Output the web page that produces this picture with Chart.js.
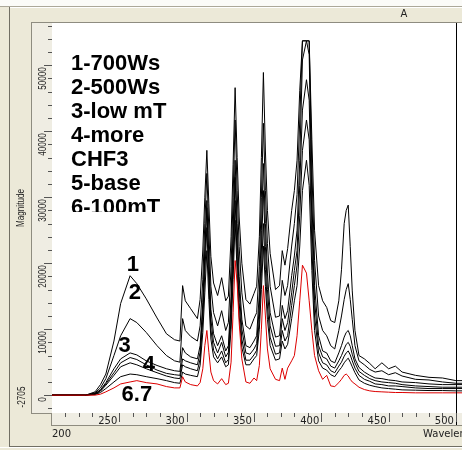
<!DOCTYPE html>
<html>
<head>
<meta charset="utf-8">
<script src="https://cdn.jsdelivr.net/npm/chart.js@4.4.1/dist/chart.umd.min.js"></script>
<style>
  html, body { margin: 0; padding: 0; background: #ECE9D8; }
  #wrap { width: 462px; height: 450px; overflow: hidden; }
</style>
</head>
<body>
<div id="wrap"><canvas id="spectrum" width="462" height="450"></canvas></div>
<script>
// wavelength grid (nm)
const wavelengths = [200, 225, 232, 236, 240, 246, 251, 258, 263, 270, 278, 285, 291, 295, 297, 299, 303, 308,
  310, 312, 313.5, 315, 316.5, 318, 320, 323, 326, 329,
  331, 333, 334.5, 336, 337.5, 339, 341, 344, 347, 350,
  352, 354, 355.5, 357, 358.5, 360, 362, 366, 369, 371,
  373, 375, 378, 380, 382, 384, 386, 389, 391, 393,
  395, 398, 401, 404, 407, 410,
  413, 415, 417, 418.5, 420, 421.5, 423, 425, 428, 432,
  436, 440, 445, 450, 455, 460, 470, 480, 490, 500, 505];

// magnitudes, one list per run
const run1 = [0, 0, 500, 1600, 3200, 8200, 13900, 18100, 16900, 14600, 11700, 9300, 8400, 8200, 16600, 14300, 13100, 11600,
  14500, 22000, 30000, 37100, 29000, 21000, 17000, 15100, 17800, 14300,
  15000, 24000, 35000, 46600, 36000, 27000, 20000, 14500, 13800, 15400,
  16500, 24000, 36000, 48900, 37000, 28000, 21500, 16000, 16600, 21900,
  19700, 22200, 28000, 31000, 35600, 46200, 53700, 53700, 53700, 38700,
  25000, 16600, 14300, 13300, 11300, 11000,
  14300, 19000, 26000, 28000, 28800, 22500, 15800, 9800, 6000, 5500,
  4800, 4000, 4900, 4000, 4400, 3500, 3000, 2700, 2600, 2200, 2200];
const run2 = [0, 0, 350, 1100, 2500, 6000, 9000, 11600, 11000, 9500, 7500, 6000, 5200, 5000, 11600, 9800, 8900, 8200,
  10500, 17500, 26000, 33600, 25000, 16500, 12500, 10500, 12800, 9800,
  11000, 19500, 30000, 41700, 31000, 22500, 15500, 10500, 10000, 11600,
  12500, 19500, 30000, 41200, 31000, 23000, 16500, 11800, 12000, 17400,
  15100, 16600, 22600, 26000, 30400, 41700, 53700, 53700, 53700, 34100,
  20400, 12000, 9800, 9000, 7500, 7000,
  9800, 12000, 14500, 16000, 16900, 14500, 11500, 7500, 5200, 4600,
  3900, 3500, 3700, 3100, 3400, 2900, 2400, 2300, 2000, 1800, 1800];
const run3 = [0, 0, 250, 800, 1900, 4000, 5500, 6400, 6100, 5200, 4500, 4000, 3700, 3600, 7200, 6400, 5800, 5500,
  7500, 14000, 22000, 29500, 21000, 13000, 9300, 7500, 9000, 6700,
  7500, 15000, 25000, 35600, 26000, 18000, 11500, 7500, 7200, 8200,
  9000, 15500, 25000, 35100, 26000, 18500, 12500, 8800, 9000, 13600,
  11600, 12800, 18100, 21100, 25000, 35600, 50800, 53700, 51600, 29500,
  16600, 9000, 6700, 6400, 5200, 4900,
  6400, 7500, 8800, 9500, 9800, 9000, 7500, 5500, 4200, 3500,
  3000, 2600, 2500, 2300, 2200, 2000, 1900, 1700, 1600, 1600, 1600];
const run4 = [0, 0, 200, 700, 1700, 3400, 4900, 5700, 5400, 4600, 3800, 3300, 3100, 3000, 5500, 5200, 4900, 4600,
  6500, 13000, 21000, 28400, 19500, 11500, 8000, 6400, 8000, 5800,
  6500, 13500, 23000, 33000, 23500, 16000, 10000, 6400, 6200, 7000,
  7800, 13500, 22000, 31000, 22500, 16000, 10500, 7400, 7500, 11600,
  9800, 11000, 15500, 18900, 21900, 31800, 43200, 47800, 44700, 26500,
  14300, 7500, 5800, 5500, 4400, 4100,
  5200, 6000, 7000, 7700, 8000, 7400, 6200, 4900, 3600, 3000,
  2500, 2200, 2000, 1900, 1800, 1600, 1400, 1300, 1200, 1200, 1200];
const run5 = [0, 0, 150, 600, 1500, 3000, 4300, 4900, 4600, 4000, 3400, 2900, 2600, 2500, 4600, 4300, 4000, 3700,
  5500, 11500, 18500, 25400, 17000, 10000, 6800, 5500, 6700, 4900,
  5400, 11500, 20000, 29500, 21000, 14000, 8500, 5300, 5300, 6100,
  6800, 11500, 18500, 26000, 19000, 13500, 8800, 6200, 6400, 9800,
  8200, 9000, 13600, 16600, 19700, 27200, 37100, 41700, 38700, 22600,
  12000, 6400, 4900, 4600, 3700, 3400,
  4400, 5000, 5900, 6400, 6700, 6100, 5200, 4100, 3000, 2400,
  2100, 1700, 1600, 1400, 1400, 1300, 1100, 1000, 1000, 1000, 1000];
const run6 = [0, 0, 100, 400, 1000, 2000, 2800, 3200, 3100, 2800, 2500, 2200, 1900, 1800, 3500, 3200, 3000, 2800,
  4500, 9500, 15500, 21900, 14500, 8500, 5800, 4900, 5800, 4300,
  4600, 10000, 17500, 26500, 18500, 12000, 7200, 4600, 4600, 5500,
  6000, 10000, 16000, 22600, 16500, 11500, 7500, 5300, 5500, 8200,
  7000, 7700, 11600, 14300, 16600, 22600, 31000, 35600, 31800, 18900,
  9800, 5200, 4100, 3800, 3100, 2800,
  3700, 4200, 4900, 5300, 5600, 5000, 4300, 3400, 2300, 1800,
  1500, 1300, 1100, 1000, 900, 800, 750, 700, 700, 650, 650];
const run7 = [0, 0, 0, 150, 500, 1100, 1700, 2000, 2200, 1900, 1700, 1300, 1100, 1100, 2800, 2000, 1600, 1400,
  1900, 4000, 7500, 9800, 6500, 3500, 2200, 1700, 2500, 1600,
  1800, 5000, 12500, 20400, 17000, 11000, 5500, 2000, 1800, 2600,
  2200, 4500, 10000, 16600, 12000, 7000, 4000, 2400, 2200, 4100,
  2400, 4100, 5200, 6000, 9000, 14300, 19700, 18500, 14300, 9800,
  6000, 3700, 2400, 3000, 1400, 1300,
  1900, 2400, 3000, 3200, 2900, 2400, 2000, 1700, 1200, 850,
  650, 550, 500, 450, 400, 400, 350, 350, 350, 350, 350];

const legendLines = ['1-700Ws', '2-500Ws', '3-low mT', '4-more', 'CHF3', '5-base', '6-100mT'];
const xTicks = [250, 300, 350, 400, 450, 500];
const yTicks = [0, 10000, 20000, 30000, 40000, 50000];
const yMin = -2705;
// curve tags: [text, wavelength, magnitude]
const curveTags = [['1', 260, 19700], ['2', 261.5, 15500], ['3', 254, 7500], ['4', 272, 4600], ['6.7', 263, 50]];

function toPoints(values) {
  return wavelengths.map((w, i) => ({ x: w, y: values[i] }));
}

const runs = [run1, run2, run3, run4, run5, run6];
const datasets = runs.map(r => ({
  data: toPoints(r),
  borderColor: '#000000',
  borderWidth: 1,
  pointRadius: 0,
  tension: 0,
  order: 1
}));
datasets.push({
  data: toPoints(run7),
  borderColor: '#dd0000',
  borderWidth: 1,
  pointRadius: 0,
  tension: 0,
  order: 0
});

function line(ctx, x1, y1, x2, y2) {
  ctx.beginPath();
  ctx.moveTo(x1, y1);
  ctx.lineTo(x2, y2);
  ctx.stroke();
}

function rotatedText(ctx, text, x, y, align, squeeze) {
  ctx.save();
  ctx.translate(x, y);
  ctx.rotate(-Math.PI / 2);
  ctx.scale(squeeze, 1);
  ctx.textAlign = align;
  ctx.textBaseline = 'middle';
  ctx.fillText(text, 0, 0);
  ctx.restore();
}

// window frame, axis strips and all texts
const framePlugin = {
  id: 'frame',
  beforeDraw(chart) {
    const ctx = chart.ctx;
    const a = chart.chartArea;
    ctx.save();
    ctx.fillStyle = '#ECE9D8';
    ctx.fillRect(0, 0, 462, 450);
    ctx.fillStyle = '#FBFBF8';
    ctx.fillRect(0, 0, 462, 6);
    ctx.lineWidth = 1;
    ctx.strokeStyle = '#ACA899';
    line(ctx, 0, 6.5, 462, 6.5);
    ctx.strokeStyle = '#FFFFFF';
    line(ctx, 10, 7.5, 462, 7.5);
    ctx.strokeStyle = '#716F64';
    line(ctx, 9.5, 7, 9.5, 447);
    line(ctx, 9, 446.5, 462, 446.5);
    ctx.strokeStyle = '#FFFFFF';
    line(ctx, 0, 447.5, 462, 447.5);

    // y strip and x strip
    ctx.fillStyle = '#EFEDE3';
    ctx.fillRect(31, a.top, a.left - 31, a.bottom - a.top);
    ctx.fillRect(a.left, a.bottom, a.right - a.left, 12);
    ctx.strokeStyle = '#8E8C80';
    line(ctx, 31.5, a.top - 1, 31.5, a.bottom + 0.5);
    line(ctx, 31, a.bottom + 0.5, a.left, a.bottom + 0.5);
    line(ctx, 31, a.top - 0.5, a.right, a.top - 0.5);
    line(ctx, a.left - 0.5, a.bottom, a.left - 0.5, a.bottom + 13);
    line(ctx, a.left, a.bottom + 12.5, a.right, a.bottom + 12.5);

    ctx.fillStyle = '#FFFFFF';
    ctx.fillRect(a.left, a.top, a.right - a.left, a.bottom - a.top);
    ctx.restore();
  },
  afterDraw(chart) {
    const ctx = chart.ctx;
    const a = chart.chartArea;
    const xs = chart.scales.x;
    const ys = chart.scales.y;
    ctx.save();
    ctx.lineWidth = 1;

    // cursor line at 500 nm
    const xc = Math.round(xs.getPixelForValue(500)) + 0.5;
    ctx.strokeStyle = '#000000';
    line(ctx, xc, a.top, xc, a.bottom + 12);

    // x ticks
    ctx.strokeStyle = '#555555';
    for (let w = 210; w <= 500; w += 10) {
      const px = Math.round(xs.getPixelForValue(w)) + 0.5;
      const major = w % 50 === 0;
      line(ctx, px, a.bottom, px, a.bottom + (major ? 9 : 4));
    }
    ctx.fillStyle = '#222222';
    ctx.font = '10px "DejaVu Sans"';
    ctx.textAlign = 'right';
    ctx.textBaseline = 'middle';
    xTicks.forEach(w => {
      ctx.fillText(String(w), xs.getPixelForValue(w) - 2, 421);
    });
    ctx.textAlign = 'left';
    ctx.fillText('200', a.left, 434.5);
    ctx.fillText('Wavelength (nm)', 423, 434.5);
    ctx.textAlign = 'center';
    ctx.fillText('A', 404, 14.5);

    // y ticks
    ctx.strokeStyle = '#555555';
    for (let v = -2000; v <= 56000; v += 2000) {
      const py = Math.round(ys.getPixelForValue(v)) + 0.5;
      const major = v % 10000 === 0;
      line(ctx, a.left - (major ? 8 : 4), py, a.left, py);
    }
    ctx.font = '11px "Liberation Sans"';
    yTicks.forEach(v => {
      rotatedText(ctx, String(v), 42.5, ys.getPixelForValue(v) + 2, 'right', 0.74);
    });
    rotatedText(ctx, 'Magnitude', 20.5, 208, 'center', 0.74);
    rotatedText(ctx, String(yMin), 21.5, 397, 'center', 0.74);

    // run list, clipped like the original text box
    ctx.save();
    ctx.beginPath();
    ctx.rect(a.left, a.top, 200, 212 - a.top);
    ctx.clip();
    ctx.fillStyle = '#000000';
    ctx.font = 'bold 22px "Liberation Sans"';
    ctx.textAlign = 'left';
    ctx.textBaseline = 'alphabetic';
    legendLines.forEach((t, i) => {
      ctx.fillText(t, 71, 70 + i * 24);
    });
    ctx.restore();

    // curve tags
    ctx.fillStyle = '#000000';
    ctx.font = 'bold 22px "Liberation Sans"';
    ctx.textAlign = 'center';
    ctx.textBaseline = 'middle';
    curveTags.forEach(([t, w, v]) => {
      ctx.fillText(t, xs.getPixelForValue(w), ys.getPixelForValue(v));
    });
    ctx.restore();
  }
};

new Chart(document.getElementById('spectrum'), {
  type: 'line',
  data: { datasets: datasets },
  options: {
    responsive: false,
    animation: false,
    devicePixelRatio: 1,
    layout: { padding: { left: 52, top: 23, right: 0, bottom: 37 } },
    plugins: {
      legend: { display: false },
      tooltip: { enabled: false }
    },
    scales: {
      x: { type: 'linear', min: 200, max: 504.5, display: false },
      y: { type: 'linear', min: yMin, max: 56400, display: false }
    }
  },
  plugins: [framePlugin]
});
</script>
</body>
</html>
